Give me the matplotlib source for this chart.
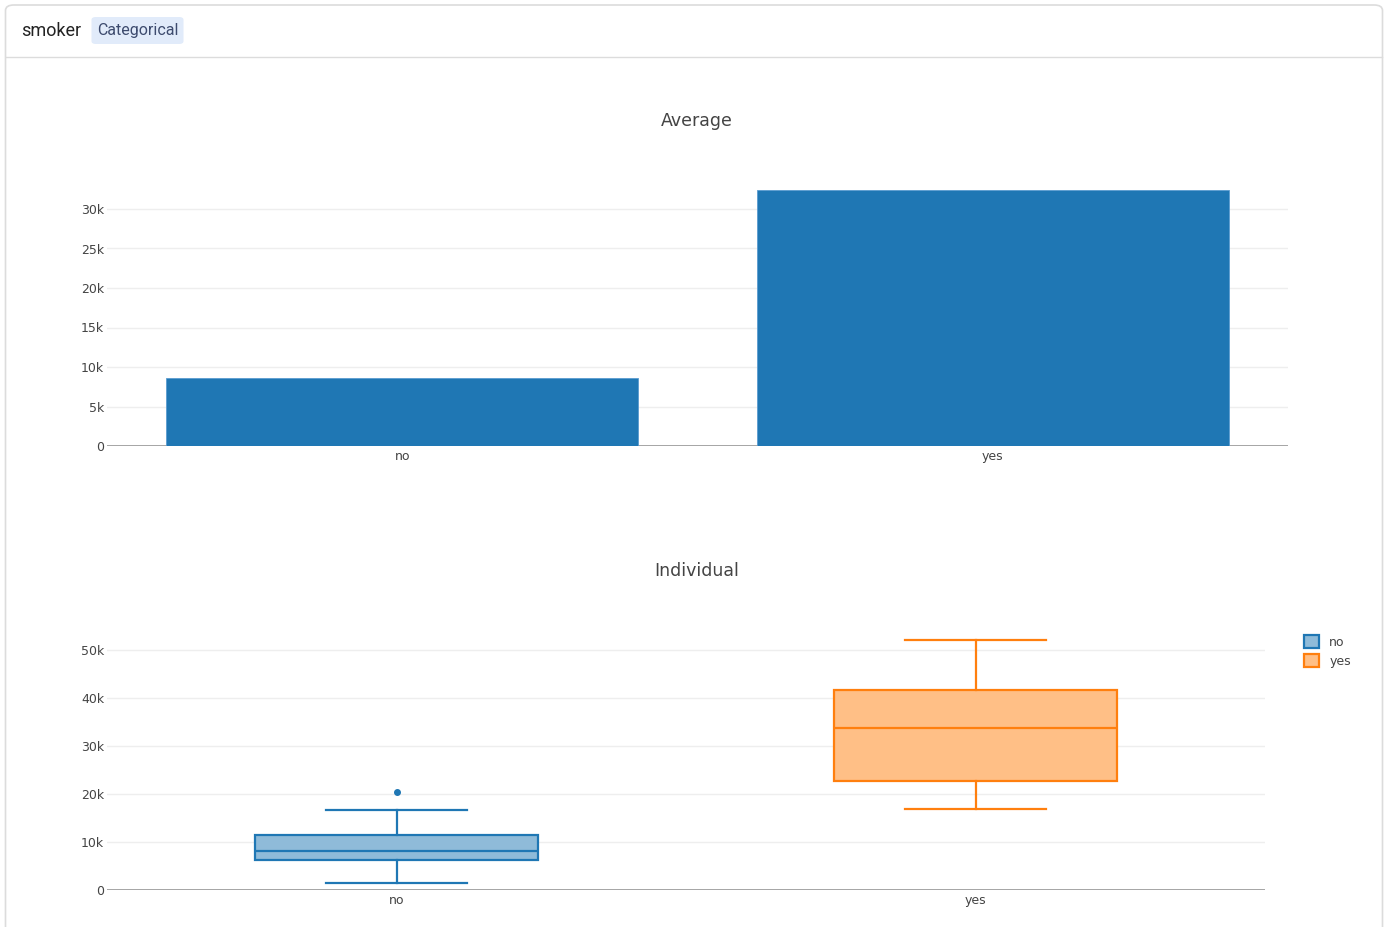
import matplotlib
matplotlib.use('Agg')
import matplotlib.pyplot as plt
from matplotlib.patches import FancyBboxPatch, Patch
from matplotlib.lines import Line2D
from matplotlib.ticker import FuncFormatter

plt.rcParams['font.family'] = ['DejaVu Sans']

W, H = 1388, 927

# data
categories = ["no", "yes"]
avg_charges = [8600, 32400]

box_low = [1460, 16900]
box_q1 = [6250, 22700]
box_med = [8100, 33750]
box_q3 = [11500, 41700]
box_high = [16700, 52100]
box_fliers = [[20400], []]

line_colors = ["#1f77b4", "#ff7f0e"]
fill_colors = ["#8fbbd9", "#ffbf86"]


def fx(x):
    return x / W


def fy(y):
    return 1 - y / H


def k_fmt(v, pos):
    if v == 0:
        return "0"
    return "%dk" % round(v / 1000)


def style_axis(ax):
    ax.set_facecolor("none")
    for s in ax.spines.values():
        s.set_visible(False)
    ax.grid(axis="y", color="#eeeeee", lw=1)
    ax.set_axisbelow(True)
    ax.axhline(0, color="#8c8c8c", lw=1.8, zorder=1)
    ax.tick_params(axis="y", length=0, labelsize=9, labelcolor="#444444", pad=2)
    ax.tick_params(axis="x", length=0, labelsize=9, labelcolor="#444444", pad=3)
    ax.yaxis.set_major_formatter(FuncFormatter(k_fmt))


fig = plt.figure(figsize=(W / 100, H / 100), dpi=100)
fig.patch.set_facecolor("white")

# card frame and header
card = FancyBboxPatch((fx(5.5), fy(940)), fx(1377), 935 / H,
                      boxstyle="round,pad=0,rounding_size=0.006",
                      transform=fig.transFigure, fc="white", ec="#dcdcdc", lw=1.2,
                      zorder=-10)
fig.add_artist(card)
fig.add_artist(Line2D([fx(6), fx(1382)], [fy(56.5), fy(56.5)], color="#dcdcdc", lw=1,
                      transform=fig.transFigure, zorder=-9))
fig.text(fx(21), fy(31), "smoker", family="Roboto", fontsize=13, color="#222222",
         va="center", ha="left")
badge = FancyBboxPatch((fx(91.5), fy(44)), fx(92), 27 / H,
                       boxstyle="round,pad=0,rounding_size=0.003",
                       transform=fig.transFigure, fc="#e1ebfa", ec="none", zorder=-9)
fig.add_artist(badge)
fig.text(fx(137.5), fy(31), "Categorical", family="Roboto", fontsize=11.5,
         color="#3d4b6e", va="center", ha="center")

# top: averages
ax1 = fig.add_axes([fx(107), fy(446), fx(1288 - 107), (446 - 176) / H])
ax1.bar(categories, avg_charges, width=0.8, color=line_colors[0],
        edgecolor="#5a9bd0", lw=0.6, zorder=2)
ax1.set_xlim(-0.5, 1.5)
ax1.set_ylim(0, 270 / 7.9 * 1000)
ax1.set_yticks([0, 5000, 10000, 15000, 20000, 25000, 30000])
style_axis(ax1)
fig.text(fx(697), fy(121), "Average", fontsize=12.5, color="#444444", ha="center", va="center")

# bottom: individual boxes
ax2 = fig.add_axes([fx(107), fy(890), fx(1265 - 107), (890 - 637) / H])
for i in range(len(categories)):
    stats = [dict(whislo=box_low[i], q1=box_q1[i], med=box_med[i], q3=box_q3[i],
                  whishi=box_high[i], fliers=box_fliers[i])]
    c = line_colors[i]
    ax2.bxp(stats, positions=[i], widths=0.49, patch_artist=True, manage_ticks=False,
            boxprops=dict(facecolor=fill_colors[i], edgecolor=c, lw=1.6),
            medianprops=dict(color=c, lw=1.6),
            whiskerprops=dict(color=c, lw=1.6),
            capprops=dict(color=c, lw=1.6), capwidths=0.245,
            flierprops=dict(marker="o", markersize=4, markerfacecolor=c,
                            markeredgecolor=c), zorder=3)
ax2.set_xticks(range(len(categories)))
ax2.set_xticklabels(categories)
ax2.set_xlim(-0.5, 1.5)
ax2.set_ylim(0, 253 / 4.8 * 1000)
ax2.set_yticks([0, 10000, 20000, 30000, 40000, 50000])
style_axis(ax2)
fig.text(fx(697), fy(571), "Individual", fontsize=12.5, color="#444444", ha="center", va="center")

handles = [Patch(facecolor=fill_colors[i], edgecolor=line_colors[i], lw=1.6,
                 label=categories[i]) for i in range(len(categories))]
fig.legend(handles=handles, loc="upper left", bbox_to_anchor=(fx(1293), fy(624)),
           frameon=False, fontsize=9, handlelength=1.15, handleheight=1.15,
           labelspacing=0.45, handletextpad=0.85, labelcolor="#444444")

fig.savefig("out.png", dpi=100)
